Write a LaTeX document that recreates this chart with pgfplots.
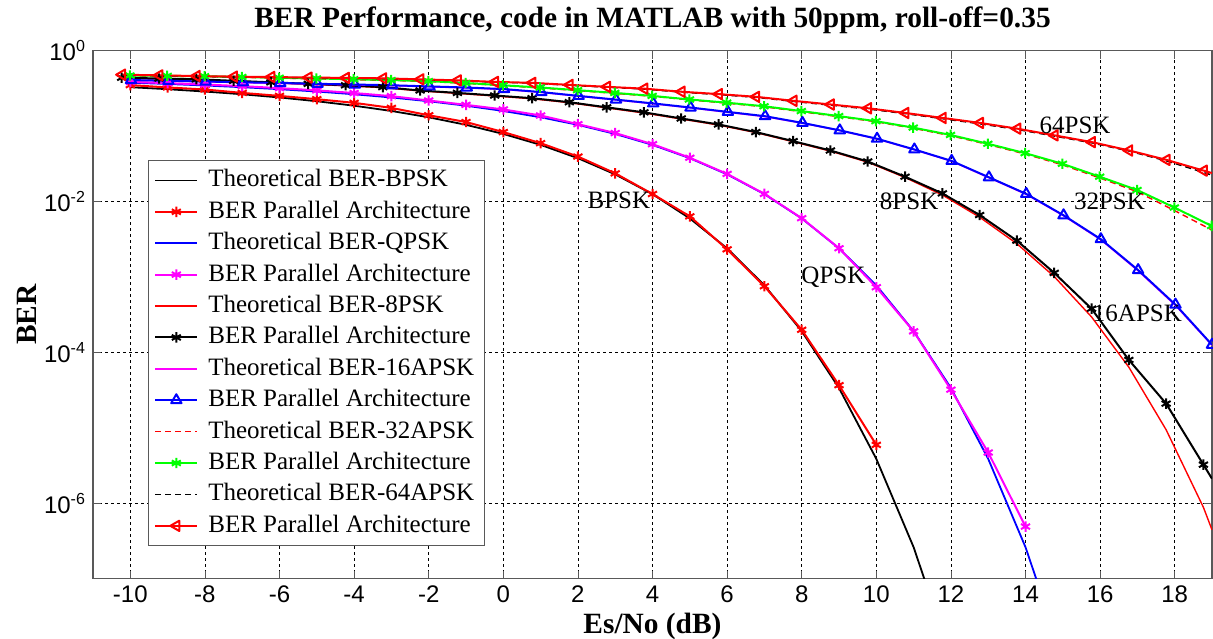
\documentclass[border=0pt]{standalone}
\usepackage{fontspec}
\setmainfont{Liberation Serif}
\newfontfamily\arialfont{Liberation Sans}
\usepackage{pgfplots}
\pgfplotsset{compat=1.18}
\definecolor{mred}{RGB}{255,0,0}
\definecolor{mblue}{RGB}{0,0,255}
\definecolor{mmag}{RGB}{255,0,255}
\definecolor{mgreen}{RGB}{0,255,0}

\begin{document}
\begin{tikzpicture}
\begin{axis}[
    scale only axis,
    width=559.5pt, height=264pt,
    xmin=-11, xmax=19,
    ymin=1e-7, ymax=1,
    ymode=log,
    xtick={-10,-8,...,18},
    xticklabels={-10,-8,-6,-4,-2,0,2,4,6,8,10,12,14,16,18},
    ytick={1,1e-2,1e-4,1e-6},
    yticklabels={10\textsuperscript{0},10\textsuperscript{-2},10\textsuperscript{-4},10\textsuperscript{-6}},
    yminorticks=false,
    tick label style={font=\arialfont\fontsize{12}{14}\selectfont},
    tick align=inside,
    major tick length=4pt,
    tick style={black!65, line width=0.4pt},
    axis line style={black!65, line width=0.6pt},
    grid=major,
    grid style={black, line width=0.4pt, dash pattern=on 1.5pt off 1.5pt},
    every axis title shift=0pt,
    title={BER Performance, code in MATLAB with 50ppm, roll-off=0.35},
    title style={font=\bfseries\fontsize{14.7}{17}\selectfont,
        at={(axis description cs:0.5,1)}, anchor=center, yshift=15pt},
    xlabel={Es/No (dB)},
    ylabel={BER},
    label style={font=\bfseries\fontsize{14.7}{17}\selectfont},
    xlabel style={at={(axis description cs:0.5,0)}, anchor=center, yshift=-24pt},
    ylabel style={at={(axis description cs:0,0.5)}, anchor=center, yshift=33pt},
    legend cell align=left,
    legend style={at={(0.049,0.792)}, anchor=north west,
        font=\fontsize{12.5}{14}\selectfont,
        draw=black!65, fill=white, line width=0.5pt,
        row sep=0.2pt, column sep=3pt,
        nodes={text height=9pt, text depth=2.5pt, inner sep=2pt}},
    legend image code/.code={\draw[mark repeat=2, mark phase=2, #1]
        plot coordinates {(0pt,0pt) (10.5pt,0pt) (21pt,0pt)};},
    every axis plot/.append style={line join=round},
]

% BPSK
\addplot[black, line width=0.9pt] coordinates {
(-10,0.3274)(-9,0.3079)(-8,0.2867)(-7,0.2638)(-6,0.2392)(-5,0.2132)(-4,0.1861)
(-3,0.1584)(-2,0.1306)(-1,0.1038)(0,0.0786)(1,0.0563)(2,0.0375)(3,0.02288)
(4,0.0125)(5,5.96e-3)(6,2.39e-3)(7,7.73e-4)(8,1.91e-4)(9,3.36e-5)(10,3.87e-6)
(11,2.61e-7)(12,9.0e-9)};
\addlegendentry{Theoretical BER-BPSK}
\addplot[mred, line width=1pt, mark=asterisk, mark size=2.6pt] coordinates {
(-10,0.349)(-9,0.325)(-8,0.305)(-7,0.275)(-6,0.251)(-5,0.227)(-4,0.203)
(-3,0.174)(-2,0.139)(-1,0.113)(0,0.0832)(1,0.0593)(2,0.0394)(3,0.0236)
(4,0.01256)(5,6.35e-3)(6,2.32e-3)(7,7.52e-4)(8,1.99e-4)(9,3.67e-5)(10,5.93e-6)};
\addlegendentry{BER Parallel Architecture}

% QPSK
\addplot[mblue, line width=0.9pt] coordinates {
(-10,0.3758)(-9,0.3612)(-8,0.3451)(-7,0.3273)(-6,0.3079)(-5,0.2867)(-4,0.2638)
(-3,0.2392)(-2,0.2132)(-1,0.1861)(0,0.1584)(1,0.1307)(2,0.1038)(3,0.0786)
(4,0.0563)(5,0.0375)(6,0.02288)(7,0.0125)(8,5.96e-3)(9,2.39e-3)(10,7.73e-4)
(11,1.91e-4)(12,3.37e-5)(13,3.87e-6)(14,2.61e-7)(15,9.0e-9)};
\addlegendentry{Theoretical BER-QPSK}
\addplot[mmag, line width=1pt, mark=asterisk, mark size=2.6pt] coordinates {
(-10,0.385)(-9,0.370)(-8,0.355)(-7,0.338)(-6,0.318)(-5,0.297)(-4,0.274)
(-3,0.249)(-2,0.218)(-1,0.191)(0,0.166)(1,0.138)(2,0.106)(3,0.0807)
(4,0.0575)(5,0.0380)(6,0.0232)(7,0.0126)(8,6.0e-3)(9,2.4e-3)(10,7.3e-4)
(11,1.9e-4)(12,3.2e-5)(13,4.7e-6)(14,4.9e-7)};
\addlegendentry{BER Parallel Architecture}

% 8PSK
\addplot[mred, line width=0.7pt] coordinates {
(-10.23,0.430)(-9.23,0.420)(-8.23,0.410)(-7.23,0.392)(-6.23,0.375)(-5.23,0.358)
(-4.23,0.342)(-3.23,0.323)(-2.23,0.292)(-1.23,0.271)(-0.23,0.250)(0.77,0.230)
(1.77,0.204)(2.77,0.174)(3.77,0.149)(4.77,0.124)(5.77,0.103)(6.77,0.0820)
(7.77,0.0620)(8.77,0.0465)(9.77,0.0332)(10.77,0.0208)(11.77,0.0122)
(12.77,6.19e-3)(13.77,2.75e-3)(14.77,1.01e-3)(15.77,2.95e-4)(16.77,6.36e-5)
(17.77,9.4e-6)(18.77,8.8e-7)(19,4.43e-7)};
\addlegendentry{Theoretical BER-8PSK}
\addplot[black, line width=1pt, mark=asterisk, mark size=2.6pt] coordinates {
(-10.23,0.437)(-9.23,0.427)(-8.23,0.417)(-7.23,0.398)(-6.23,0.380)(-5.23,0.363)
(-4.23,0.347)(-3.23,0.328)(-2.23,0.296)(-1.23,0.275)(-0.23,0.254)(0.77,0.234)
(1.77,0.207)(2.77,0.177)(3.77,0.152)(4.77,0.126)(5.77,0.105)(6.77,0.0832)
(7.77,0.0631)(8.77,0.0474)(9.77,0.0339)(10.77,0.0213)(11.77,0.0128)
(12.77,6.61e-3)(13.77,3.02e-3)(14.77,1.13e-3)(15.77,3.79e-4)(16.77,7.93e-5)
(17.77,2.09e-5)(18.77,3.24e-6)};
\addlegendentry{BER Parallel Architecture}
\addplot[black, line width=1pt, forget plot] coordinates {(18.77,3.24e-6)(19,2.11e-6)};

% 16APSK
\addplot[mmag, line width=0.7pt] coordinates {
(-9.98,0.403)(-8.98,0.394)(-7.98,0.385)(-6.98,0.376)(-5.98,0.368)(-4.98,0.359)
(-3.98,0.351)(-2.98,0.343)(-1.98,0.331)(-0.98,0.320)(0.02,0.305)(1.02,0.279)
(2.02,0.248)(3.02,0.222)(4.02,0.197)(5.02,0.174)(6.02,0.152)(7.02,0.133)
(8.02,0.109)(9.02,0.0870)(10.02,0.0672)(11.02,0.0484)(12.02,0.0341)
(13.02,0.0206)(14.02,0.0124)(15.02,6.45e-3)(16.02,3.10e-3)(17.02,1.20e-3)
(18.02,4.18e-4)(19,1.24e-4)};
\addlegendentry{Theoretical BER-16APSK}
\addplot[mblue, line width=1pt, mark=triangle, mark size=3pt] coordinates {
(-9.98,0.407)(-8.98,0.398)(-7.98,0.389)(-6.98,0.380)(-5.98,0.372)(-4.98,0.363)
(-3.98,0.355)(-2.98,0.347)(-1.98,0.335)(-0.98,0.324)(0.02,0.309)(1.02,0.282)
(2.02,0.251)(3.02,0.224)(4.02,0.1995)(5.02,0.176)(6.02,0.154)(7.02,0.135)
(8.02,0.110)(9.02,0.0877)(10.02,0.0679)(11.02,0.0489)(12.02,0.0345)
(13.02,0.0209)(14.02,0.0126)(15.02,6.56e-3)(16.02,3.16e-3)(17.02,1.23e-3)
(18.02,4.29e-4)(19,1.26e-4)};
\addlegendentry{BER Parallel Architecture}

% 32APSK
\addplot[mred, line width=0.7pt, dash pattern=on 3pt off 2pt] coordinates {
(-10.01,0.463)(-9.01,0.457)(-8.01,0.452)(-7.01,0.442)(-6.01,0.432)(-5.01,0.422)
(-4.01,0.412)(-3.01,0.402)(-2.01,0.389)(-1.01,0.368)(-0.01,0.343)(0.99,0.320)
(1.99,0.295)(2.99,0.271)(3.99,0.248)(4.99,0.222)(5.99,0.201)(6.99,0.180)
(7.99,0.155)(8.99,0.133)(9.99,0.114)(10.99,0.0935)(11.99,0.0745)(12.99,0.0570)
(13.99,0.0426)(14.99,0.0306)(15.99,0.0205)(16.99,0.0135)(17.99,7.6e-3)(18.99,4.2e-3)};
\addlegendentry{Theoretical BER-32APSK}
\addplot[mgreen, line width=1pt, mark=asterisk, mark size=2.6pt] coordinates {
(-10.01,0.468)(-9.01,0.462)(-8.01,0.457)(-7.01,0.447)(-6.01,0.437)(-5.01,0.427)
(-4.01,0.417)(-3.01,0.407)(-2.01,0.394)(-1.01,0.372)(-0.01,0.347)(0.99,0.324)
(1.99,0.299)(2.99,0.275)(3.99,0.251)(4.99,0.225)(5.99,0.204)(6.99,0.183)
(7.99,0.158)(8.99,0.1355)(9.99,0.116)(10.99,0.0953)(11.99,0.0762)(12.99,0.0582)
(13.99,0.0437)(14.99,0.0316)(15.99,0.0213)(16.99,0.0142)(17.99,8.32e-3)(18.99,4.74e-3)};
\addlegendentry{BER Parallel Architecture}

% 64APSK
\addplot[black, line width=0.7pt, dash pattern=on 3pt off 2pt] coordinates {
(-10.22,0.475)(-9.22,0.466)(-8.22,0.456)(-7.22,0.448)(-6.22,0.443)(-5.22,0.435)
(-4.22,0.431)(-3.22,0.425)(-2.22,0.412)(-1.22,0.399)(-0.22,0.381)(0.78,0.370)
(1.78,0.347)(2.78,0.327)(3.78,0.309)(4.78,0.281)(5.78,0.261)(6.78,0.240)
(7.78,0.212)(8.78,0.189)(9.78,0.168)(10.78,0.146)(11.78,0.125)(12.78,0.107)
(13.78,0.0900)(14.78,0.0735)(15.78,0.0598)(16.78,0.0465)(17.78,0.0345)
(18.78,0.0242)(19,0.0223)};
\addlegendentry{Theoretical BER-64APSK}
\addplot[mred, line width=1pt, mark=triangle, mark size=3pt, mark options={rotate=90}] coordinates {
(-10.22,0.479)(-9.22,0.470)(-8.22,0.460)(-7.22,0.452)(-6.22,0.447)(-5.22,0.439)
(-4.22,0.435)(-3.22,0.429)(-2.22,0.416)(-1.22,0.403)(-0.22,0.385)(0.78,0.374)
(1.78,0.351)(2.78,0.331)(3.78,0.313)(4.78,0.285)(5.78,0.265)(6.78,0.244)
(7.78,0.216)(8.78,0.193)(9.78,0.172)(10.78,0.149)(11.78,0.128)(12.78,0.110)
(13.78,0.0923)(14.78,0.0752)(15.78,0.0612)(16.78,0.0474)(17.78,0.0356)(18.78,0.0256)};
\addlegendentry{BER Parallel Architecture}
\addplot[mred, line width=1pt, forget plot] coordinates {(18.78,0.0256)(19,0.0238)};

% curve labels
\begin{scope}[font=\fontsize{12.5}{14}\selectfont]
\node at (axis cs:3.1,0.0102) {BPSK};
\node at (axis cs:8.85,9.8e-4) {QPSK};
\node at (axis cs:10.88,0.0100) {8PSK};
\node at (axis cs:16.25,0.0100) {32PSK};
\node at (axis cs:15.33,0.102) {64PSK};
\node at (axis cs:17.0,3.3e-4) {16APSK};
\end{scope}
\end{axis}
\pgfresetboundingbox
\path[use as bounding box] ([xshift=-46.5pt,yshift=-30pt]current axis.south west)
    rectangle ([xshift=0.5pt,yshift=25.3pt]current axis.north east);
\end{tikzpicture}
\end{document}
